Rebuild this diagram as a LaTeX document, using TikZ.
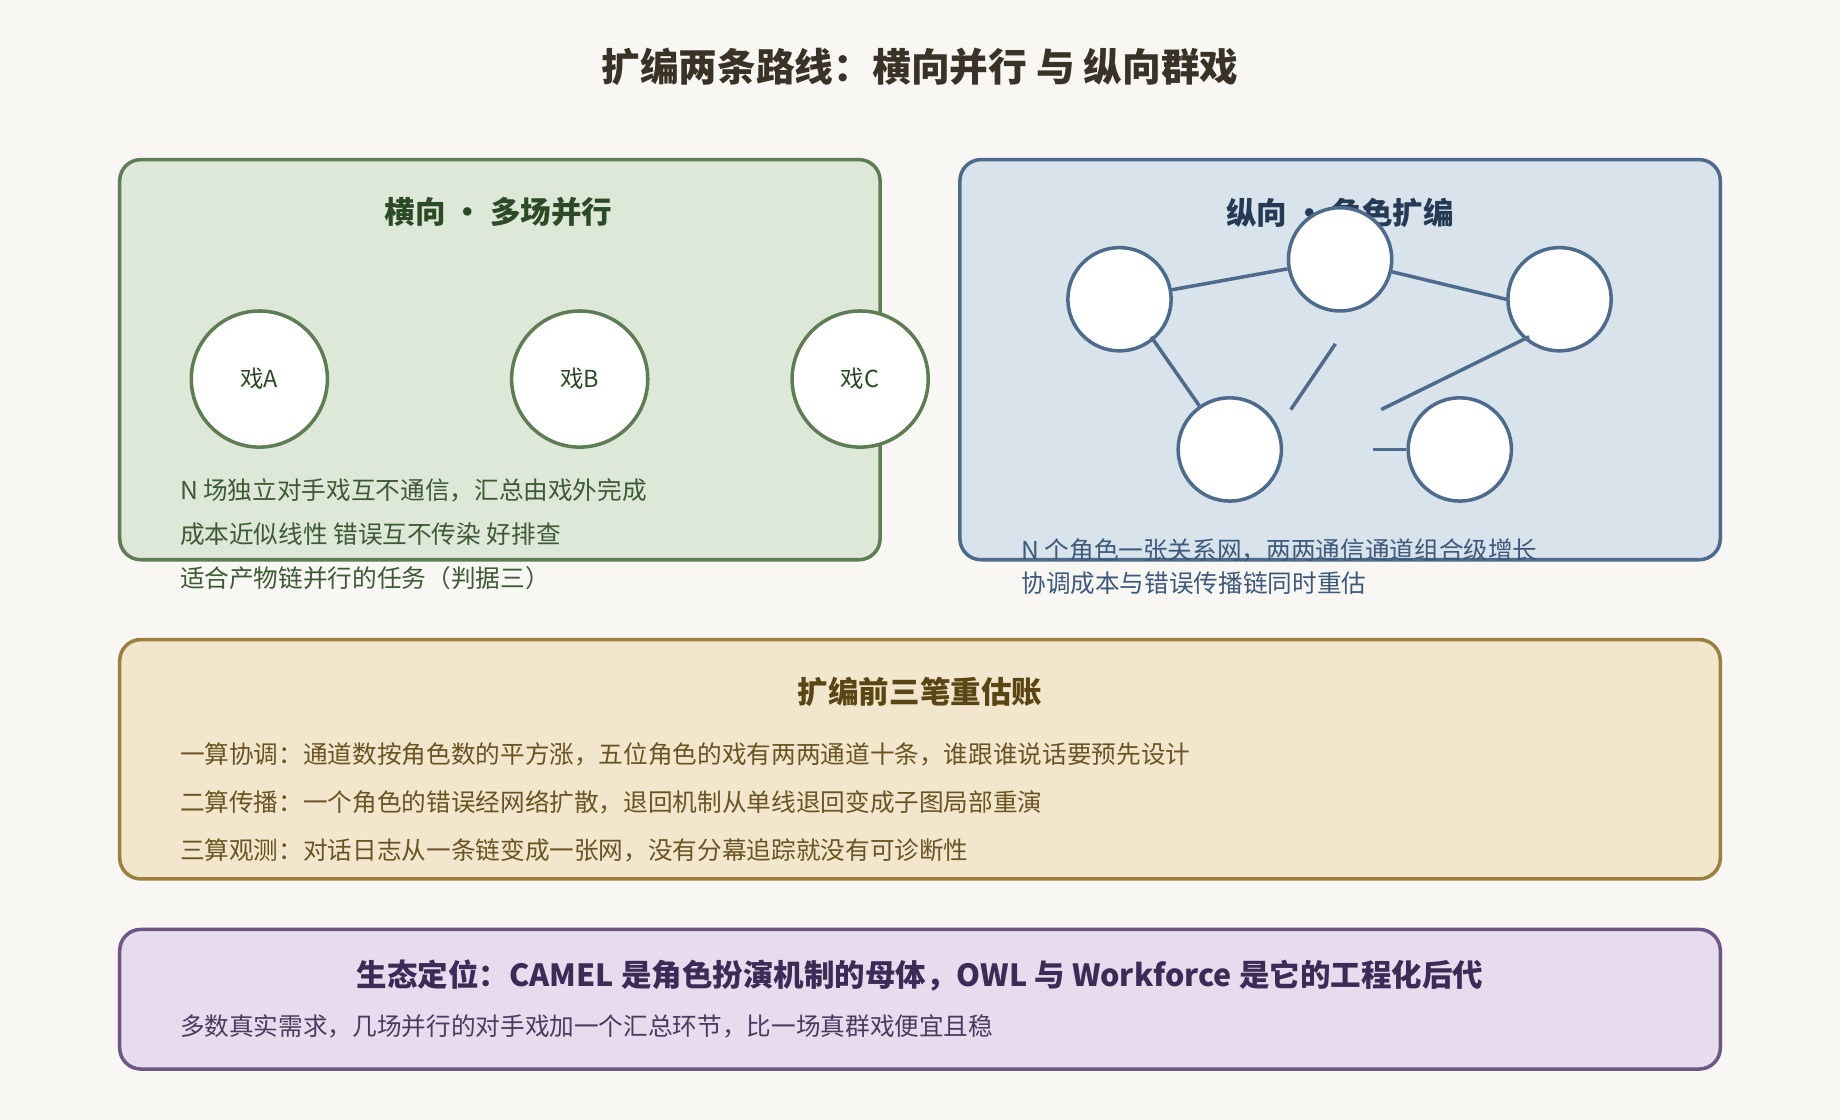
\documentclass[tikz,border=0pt]{standalone}
\usepackage{fontspec}
\setmainfont{Noto Sans CJK SC}
\definecolor{bg}{HTML}{F9F7F3}
\definecolor{gfill}{HTML}{DDE8D8}\definecolor{gline}{HTML}{5E7D55}\definecolor{gtxt}{HTML}{3D5A35}\definecolor{gtit}{HTML}{2D4A27}
\definecolor{bfill}{HTML}{D8E3EC}\definecolor{bline}{HTML}{4F6B8C}\definecolor{btxt}{HTML}{3D5A7A}\definecolor{btit}{HTML}{243A55}
\definecolor{yfill}{HTML}{F2E7CC}\definecolor{yline}{HTML}{9A8040}\definecolor{ytxt}{HTML}{6B5424}\definecolor{ytit}{HTML}{5A4515}
\definecolor{pfill}{HTML}{E6DCED}\definecolor{pline}{HTML}{6E5687}\definecolor{ptxt}{HTML}{4A3A5E}\definecolor{ptit}{HTML}{3D2A57}
\definecolor{title}{HTML}{3A3226}
\begin{document}
\begin{tikzpicture}[x=0.5pt,y=-0.5pt,
 box/.style={rounded corners=9pt,line width=1.5pt},
 body/.style={anchor=west,inner sep=0,font=\fontsize{10.5pt}{12pt}\selectfont},
 btitle/.style={inner sep=0,font=\fontsize{13pt}{15pt}\selectfont\bfseries},
 gc/.style={circle,draw=gline,fill=white,line width=1.5pt,minimum size=58pt,inner sep=0,text=gtit,font=\fontsize{10pt}{12pt}\selectfont},
 bc/.style={circle,draw=bline,fill=white,line width=1.5pt,minimum size=44pt,inner sep=0},
 bl/.style={draw=bline,line width=1.5pt}]
\fill[bg] (0,0) rectangle (1568,954);
\useasboundingbox (0,0) rectangle (1568,954);
\node[inner sep=0,text=title,font=\fontsize{16.5pt}{19pt}\selectfont\bfseries] (t) at (784,57) {扩编两条路线：横向并行 与 纵向群戏};
% green
\draw[box,fill=gfill,draw=gline] (102,136) rectangle (750,477);
\node[btitle,text=gtit] (gt) at (425,181) {横向 • 多场并行};
\node[gc] (a) at (221,323) {戏A};
\node[gc] (b) at (494,323) {戏B};
\node[gc] (c) at (733,323) {戏C};
\node[body,text=gtxt] (g1) at (153,418) {N 场独立对手戏互不通信，汇总由戏外完成};
\node[body,text=gtxt] (g2) at (153,455) {成本近似线性 错误互不传染 好排查};
\node[body,text=gtxt] (g3) at (153,493) {适合产物链并行的任务（判据三）};
% blue
\draw[box,fill=bfill,draw=bline] (818,136) rectangle (1466,477);
\node[btitle,text=btit] (bt) at (1142,181) {纵向 • 角色扩编};
\node[bc] (n1) at (954,255) {};
\node[bc] (n2) at (1142,221) {};
\node[bc] (n3) at (1329,255) {};
\node[bc] (n4) at (1048,383) {};
\node[bc] (n5) at (1244,383) {};
\coordinate (p1) at (1138,293);\coordinate (p2) at (1100,349);
\coordinate (q1) at (1303,287);\coordinate (q2) at (1177,349);
\coordinate (r1) at (981,287);\coordinate (r2) at (1170,383);
\draw[bl] (n1) -- (n2);
\draw[bl] (n2) -- (n3.west);
\draw[bl] (r1) -- (n4);
\draw[bl] (p1) -- (p2);
\draw[bl] (q1) -- (q2);
\draw[bl] (r2) -- (n5);
\node[body,text=btxt] (b1) at (870,469) {N 个角色一张关系网，两两通信通道组合级增长};
\node[body,text=btxt] (b2) at (870,497) {协调成本与错误传播链同时重估};
% yellow
\draw[box,fill=yfill,draw=yline] (102,545) rectangle (1466,749);
\node[btitle,text=ytit] (yt) at (784,590) {扩编前三笔重估账};
\node[body,text=ytxt] (y1) at (153,643) {一算协调：通道数按角色数的平方涨，五位角色的戏有两两通道十条，谁跟谁说话要预先设计};
\node[body,text=ytxt] (y2) at (153,684) {二算传播：一个角色的错误经网络扩散，退回机制从单线退回变成子图局部重演};
\node[body,text=ytxt] (y3) at (153,725) {三算观测：对话日志从一条链变成一张网，没有分幕追踪就没有可诊断性};
% purple
\draw[box,fill=pfill,draw=pline] (102,792) rectangle (1466,911);
\node[btitle,text=ptit] (pt) at (784,831) {生态定位：CAMEL 是角色扮演机制的母体，OWL 与 Workforce 是它的工程化后代};
\node[body,text=ptxt] (p1t) at (153,875) {多数真实需求，几场并行的对手戏加一个汇总环节，比一场真群戏便宜且稳};
\end{tikzpicture}
\end{document}
